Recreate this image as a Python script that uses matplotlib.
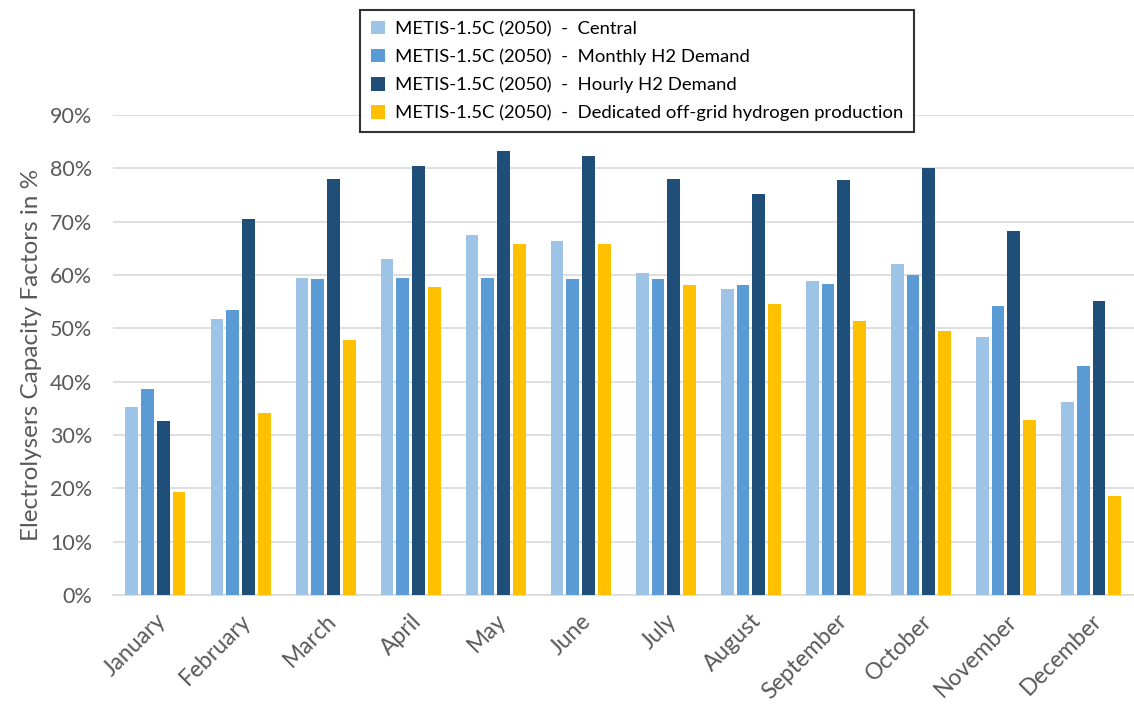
import numpy as np
import matplotlib.pyplot as plt

months = ["January", "February", "March", "April", "May", "June", "July",
          "August", "September", "October", "November", "December"]
central = [35.3, 51.7, 59.5, 63.1, 67.5, 66.4, 60.3, 57.3, 58.8, 62.0, 48.4, 36.2]
monthly = [38.7, 53.4, 59.3, 59.5, 59.5, 59.2, 59.2, 58.1, 58.4, 60.0, 54.2, 42.9]
hourly = [32.6, 70.6, 78.0, 80.5, 83.3, 82.4, 78.0, 75.3, 77.8, 80.0, 68.3, 55.1]
offgrid = [19.3, 34.2, 47.8, 57.8, 65.9, 65.9, 58.1, 54.5, 51.4, 49.5, 32.9, 18.6]

labels = ["METIS-1.5C (2050)  -  Central",
          "METIS-1.5C (2050)  -  Monthly H2 Demand",
          "METIS-1.5C (2050)  -  Hourly H2 Demand",
          "METIS-1.5C (2050)  -  Dedicated off-grid hydrogen production"]
colors = ["#9DC3E6", "#5B9BD5", "#1F4E79", "#FFC000"]

plt.rcParams['font.family'] = ['Lato', 'DejaVu Sans']
grey = "#595959"

fig = plt.figure(figsize=(11.34, 7.04), dpi=100)
ax = fig.add_axes([0.0996, 0.155, 0.9, 0.6814])

x = np.arange(len(months))
step = 0.185
for i, (vals, c, lab) in enumerate(zip([central, monthly, hourly, offgrid], colors, labels)):
    ax.bar(x + (i - 1.5) * step, np.array(vals) / 100, width=0.15, color=c,
           label=lab, zorder=3)

ax.set_xlim(-0.5, 11.5)
ax.set_ylim(0, 0.9)
ax.set_yticks(np.arange(0, 0.91, 0.1))
ax.set_yticklabels([f"{int(round(v*100))}%" for v in np.arange(0, 0.91, 0.1)],
                   fontsize=15.5, color=grey)
ax.set_xticks(x)
ax.set_xticklabels(months, rotation=45, ha='right', rotation_mode='anchor',
                   fontsize=16.5, color=grey)
ax.tick_params(axis='both', length=0)
ax.tick_params(axis='x', pad=11)
ax.tick_params(axis='y', pad=15)
ax.grid(axis='y', color='#D9D9D9', linewidth=1.2, zorder=0)
for s in ['top', 'right', 'left']:
    ax.spines[s].set_visible(False)
ax.spines['bottom'].set_color('#D9D9D9')
ax.spines['bottom'].set_linewidth(1.2)
ax.set_ylabel("Electrolysers Capacity Factors in %", fontsize=17.5, color=grey, labelpad=6)

leg = fig.legend(loc='upper left', bbox_to_anchor=(0.3175, 0.986), fontsize=13.3,
                 frameon=True, fancybox=False, edgecolor='black', handlelength=0.75,
                 handleheight=0.75, handletextpad=0.55, labelspacing=0.62,
                 borderpad=0.6, borderaxespad=0)
leg.get_frame().set_linewidth(1.5)

fig.savefig("out.png", dpi=100)
